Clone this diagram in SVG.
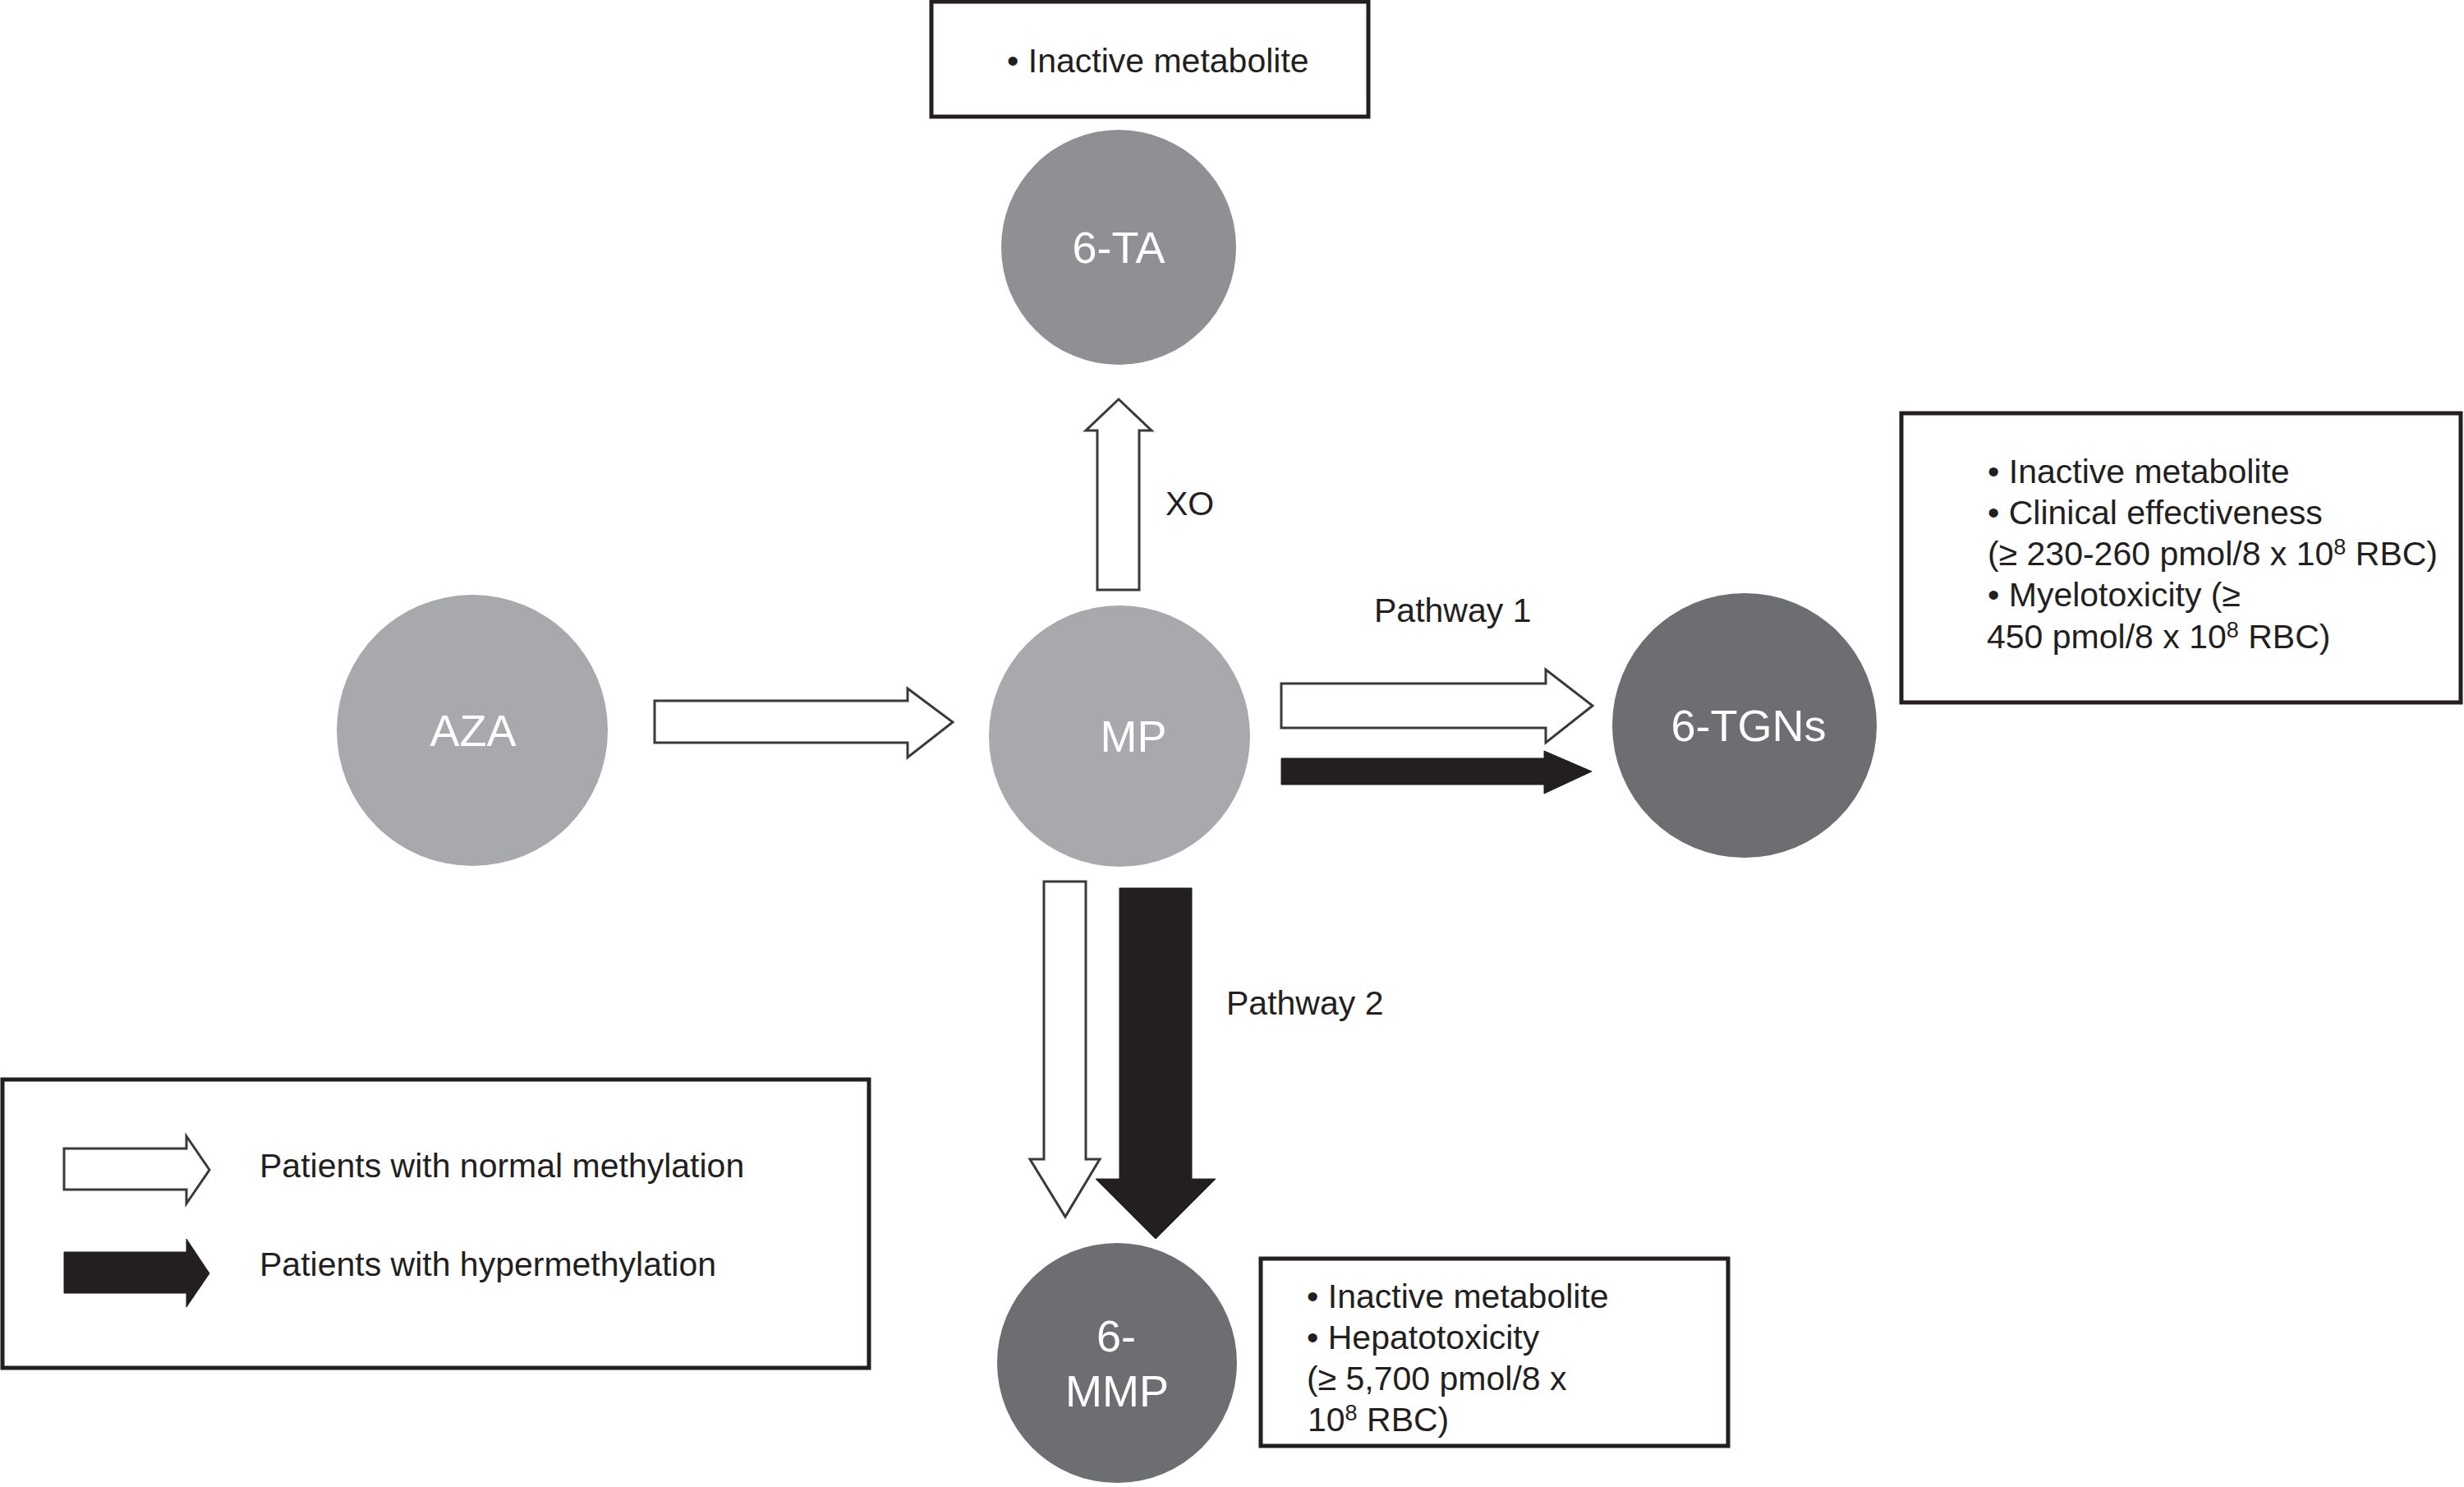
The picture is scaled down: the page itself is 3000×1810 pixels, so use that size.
<svg xmlns="http://www.w3.org/2000/svg" width="3000" height="1810" viewBox="0 0 3000 1810">
<style>
.bg{fill:#ffffff}
.box{fill:#ffffff;stroke:#231f20;stroke-width:5}
.light{fill:#a7a9ac}
.mid{fill:#8e9093}
.dark{fill:#6d6e71}
.lbl{font-family:"Liberation Sans",Arial,sans-serif;font-size:54px;fill:#ffffff;text-anchor:middle}
.txt{font-family:"Liberation Sans",Arial,sans-serif;font-size:41px;fill:#231f20}
.hollow{fill:#ffffff;stroke:#3a3a3a;stroke-width:3;stroke-linejoin:miter}
.solid{fill:#231f20;stroke:#231f20;stroke-width:1}
.sup{font-size:27px}
</style>
<rect class="bg" x="0" y="0" width="3000" height="1810"/>

<g id="connectors">
  <polygon id="aza-mp" class="hollow" points="797,853 1105,853 1105,838 1160,879 1105,922 1105,904 797,904"/>
  <polygon id="mp-6ta" class="hollow" points="1336,718 1336,524 1322,524 1362,486 1402,524 1387,524 1387,718"/>
  <polygon id="mp-6tgn-normal" class="hollow" points="1560,832 1882,832 1882,815 1939,859 1882,904 1882,886 1560,886"/>
  <polygon id="mp-6tgn-hyper" class="solid" points="1560,923 1880,923 1880,914 1938,939 1880,966 1880,955 1560,955"/>
  <polygon id="mp-6mmp-normal" class="hollow" points="1271,1073 1322,1073 1322,1411 1339,1411 1297,1481 1254,1411 1271,1411"/>
  <polygon id="mp-6mmp-hyper" class="solid" points="1363,1081 1451,1081 1451,1435 1480,1435 1407,1508 1334,1435 1363,1435"/>
  <text class="txt" x="1419" y="627">XO</text>
  <text class="txt" x="1673" y="757">Pathway 1</text>
  <text class="txt" x="1493" y="1235">Pathway 2</text>
</g>

<g id="node-6ta-note">
  <rect class="box" x="1134" y="2" width="532" height="140"/>
  <text class="txt" x="1226" y="88">• Inactive metabolite</text>
</g>

<g id="node-6ta">
  <circle class="mid" cx="1362" cy="301" r="143"/>
  <text class="lbl" x="1362" y="320">6-TA</text>
</g>

<g id="node-aza">
  <circle class="light" cx="575" cy="889" r="165"/>
  <text class="lbl" x="576" y="908">AZA</text>
</g>

<g id="node-mp">
  <circle class="light" cx="1363" cy="896" r="159"/>
  <text class="lbl" x="1380" y="915">MP</text>
</g>

<g id="node-6tgns">
  <circle class="dark" cx="2124" cy="883" r="161"/>
  <text class="lbl" x="2129" y="902">6-TGNs</text>
</g>

<g id="node-6tgns-note">
  <rect class="box" x="2315" y="503" width="681" height="352"/>
  <text class="txt" x="2420" y="588">• Inactive metabolite</text>
  <text class="txt" x="2420" y="638">• Clinical effectiveness</text>
  <text class="txt" x="2420" y="688">(≥ 230-260 pmol/8 x 10<tspan class="sup" dy="-13">8</tspan><tspan dy="13"> RBC)</tspan></text>
  <text class="txt" x="2420" y="738">• Myelotoxicity (≥</text>
  <text class="txt" x="2419" y="789">450 pmol/8 x 10<tspan class="sup" dy="-13">8</tspan><tspan dy="13"> RBC)</tspan></text>
</g>

<g id="node-6mmp">
  <circle class="dark" cx="1360" cy="1659" r="146"/>
  <text class="lbl" x="1359" y="1645">6-</text>
  <text class="lbl" x="1360" y="1712">MMP</text>
</g>

<g id="node-6mmp-note">
  <rect class="box" x="1535" y="1532" width="569" height="228"/>
  <text class="txt" x="1591" y="1592">• Inactive metabolite</text>
  <text class="txt" x="1591" y="1642">• Hepatotoxicity</text>
  <text class="txt" x="1591" y="1692">(≥ 5,700 pmol/8 x</text>
  <text class="txt" x="1592" y="1742">10<tspan class="sup" dy="-13">8</tspan><tspan dy="13"> RBC)</tspan></text>
</g>

<g id="legend">
  <rect class="box" x="3" y="1314" width="1055" height="351"/>
  <polygon class="hollow" points="78,1398 227,1398 227,1383 255,1424 227,1465 227,1448 78,1448"/>
  <polygon class="solid" points="78,1524 227,1524 227,1508 255,1550 227,1591 227,1574 78,1574"/>
  <text class="txt" x="316" y="1433">Patients with normal methylation</text>
  <text class="txt" x="316" y="1553">Patients with hypermethylation</text>
</g>
</svg>
